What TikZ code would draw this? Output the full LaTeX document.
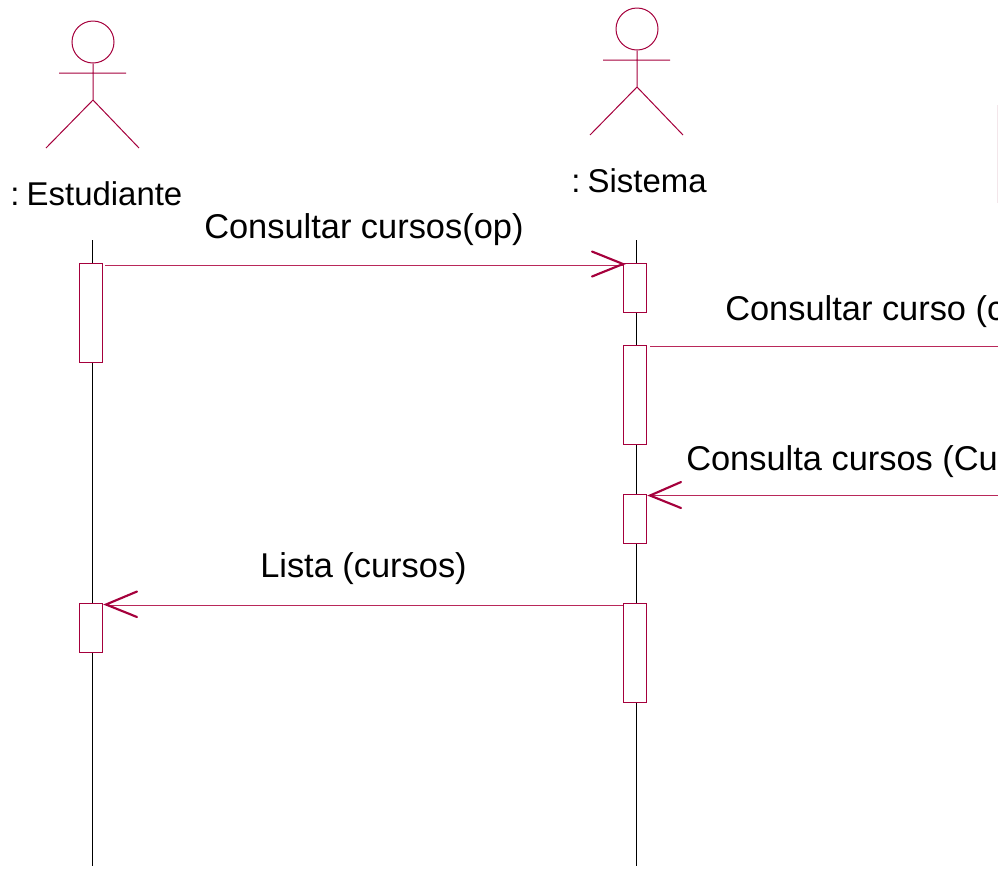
\documentclass[tikz,border=0pt]{standalone}
\usepackage{fontspec}
\setmainfont{Liberation Sans}
\definecolor{umlc}{RGB}{165,0,60}
\definecolor{umlm}{RGB}{185,40,90}
\definecolor{umlf}{RGB}{243,230,234}
\tikzset{
  life/.style={draw=black,line width=0.8pt},
  actv/.style={draw=umlc,fill=white,line width=0.9pt,minimum width=17pt,inner sep=0pt,outer sep=0pt,anchor=north west},
  msg/.style={draw=umlm,line width=0.75pt},
  ahead/.style={draw=umlc,line width=1.6pt,line cap=round,line join=miter},
  stick/.style={draw=umlc,line width=0.75pt},
  headc/.style={circle,draw=umlc,line width=0.75pt,minimum size=31.5pt,inner sep=0pt},
  lab/.style={inner sep=0pt,text=black,font=\fontsize{25.8}{30}\selectfont,anchor=base west},
  lab2/.style={inner sep=0pt,text=black,font=\fontsize{24.7}{28}\selectfont,anchor=base west},
}
\begin{document}
\begin{tikzpicture}[x=0.75pt,y=-0.75pt]
\useasboundingbox (0,0) rectangle (998,869);
\clip (0,0) rectangle (998,869);
% lifelines
\coordinate (e1) at (92.5,240); \coordinate (e2) at (92.5,866);
\coordinate (s1) at (636.5,240); \coordinate (s2) at (636.5,866);
\draw[life] (e1) -- (e2);
\draw[life] (s1) -- (s2);
% activations
\node[actv,minimum height=74.25pt] (a1) at (79.5,263.5) {};
\node[actv,minimum height=36.75pt] (a2) at (79.5,603.5) {};
\node[actv,minimum height=36.75pt] (b1) at (623.5,263.5) {};
\node[actv,minimum height=74.25pt] (b2) at (623.5,345.5) {};
\node[actv,minimum height=36.75pt] (b3) at (623.5,494.5) {};
\node[actv,minimum height=74.25pt] (b4) at (623.5,603.5) {};
% actors
\node[headc] (h1) at (93,42) {};
\coordinate (n1) at (93,100); \coordinate (la1) at (46,148); \coordinate (ra1) at (139,148);
\coordinate (al1) at (59,73); \coordinate (ar1) at (126,73);
\draw[stick] (h1.south) -- (n1) -- (la1) (n1) -- (ra1) (al1) -- (ar1);
\node[headc] (h2) at (637,29) {};
\coordinate (n2) at (637,87); \coordinate (la2) at (590,135); \coordinate (ra2) at (683,135);
\coordinate (al2) at (603,60); \coordinate (ar2) at (670,60);
\draw[stick] (h2.south) -- (n2) -- (la2) (n2) -- (ra2) (al2) -- (ar2);
% messages
\coordinate (f1) at (105,265); \coordinate (tp1) at (623,264);
\coordinate (f2) at (650,346.5); \coordinate (rt1) at (998,346.5);
\coordinate (rt2) at (998,495.5); \coordinate (tp2) at (650,495.5);
\coordinate (f3) at (623,605); \coordinate (tp3) at (106,604.5);
\draw[msg] (f1) -- (tp1 |- f1);
\draw[ahead] (592,251.5) -- (tp1) -- (592,276.5);
\draw[msg] (f2) -- (rt1);
\draw[msg] (rt2) -- (tp2);
\draw[ahead] (681,482) -- (tp2) -- (681,508);
\draw[msg] (f3) -- (tp3 |- f3);
\draw[ahead] (137,591.5) -- (tp3) -- (137,617);
% texts
\node[lab2] (t1) at (10,205) {:\kern0.22em Estudiante};
\node[lab2] (t2) at (571,192) {:\kern0.22em Sistema};
\node[lab] (t3) at (204,238) {Consultar cursos(op)};
\node[lab] (t4) at (725,320) {Consultar curso (c};
\node[lab] (t5) at (686,470) {Consulta cursos (Cu};
\node[lab] (t6) at (260,577) {Lista (cursos)};
% partial element at the right edge
\coordinate (m1) at (997.5,105); \coordinate (m2) at (997.5,203);
\draw[line width=0.75pt,draw=umlf] (m1) -- (m2);
\end{tikzpicture}
\end{document}
